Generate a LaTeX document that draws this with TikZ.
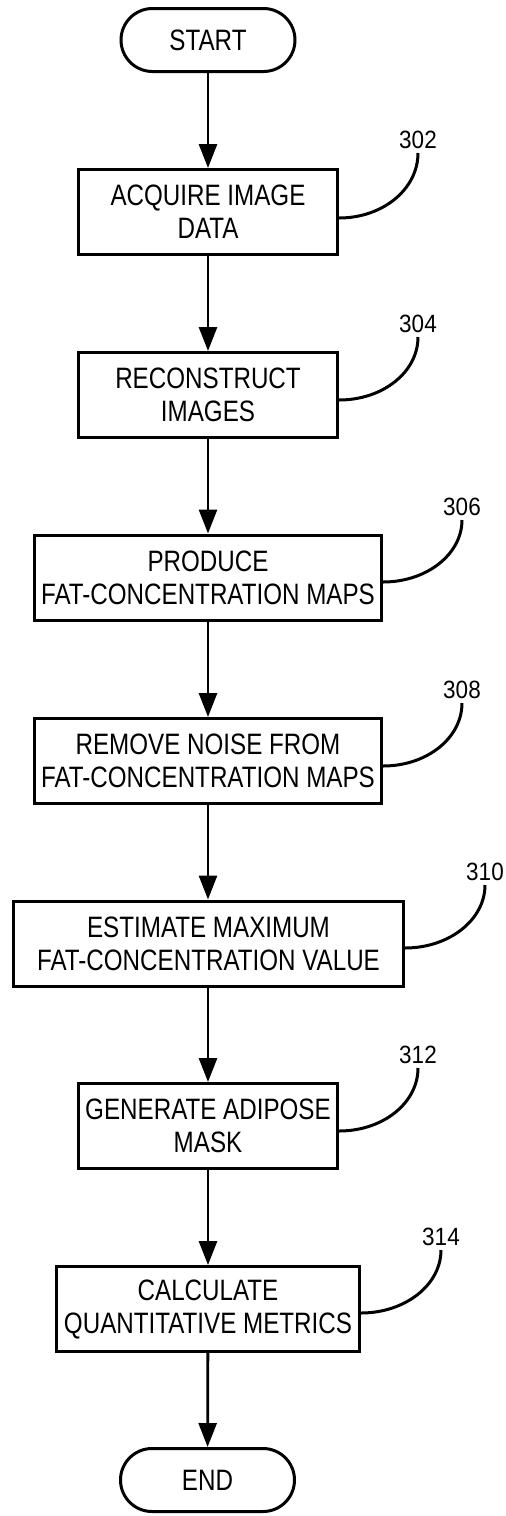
\documentclass[tikz,border=0pt]{standalone}
\usepackage{fontspec}
\setmainfont{Liberation Sans}[FakeStretch=0.82]
\newfontfamily\numfont{Liberation Sans}[FakeStretch=0.9]
\usetikzlibrary{arrows.meta}
\begin{document}
\begin{tikzpicture}[x=1pt,y=-1pt,
  every node/.style={font=\fontsize{29.5}{33}\selectfont},
  stepbox/.style={draw, line width=3pt, align=center, inner sep=0pt, minimum height=85pt},
  term/.style={draw, line width=3pt, rounded corners=31.5pt, minimum width=174pt, minimum height=63pt, inner sep=0pt},
  arr/.style={line width=2.8pt, -{Triangle[width=18pt,length=24pt]}},
  leader/.style={line width=3pt},
  lbl/.style={font=\numfont\fontsize{25}{28}\selectfont, inner sep=4pt, anchor=south}]
\useasboundingbox (0,0) rectangle (506,1516);

\node[term] (start) at (208,40) {START};
\node[stepbox, minimum width=259pt] (b302) at (208,212) {ACQUIRE IMAGE\\DATA};
\node[stepbox, minimum width=259pt] (b304) at (208,395) {RECONSTRUCT\\IMAGES};
\node[stepbox, minimum width=347pt] (b306) at (208,577.5) {PRODUCE\\FAT-CONCENTRATION MAPS};
\node[stepbox, minimum width=347pt] (b308) at (208,761) {REMOVE NOISE FROM\\FAT-CONCENTRATION MAPS};
\node[stepbox, minimum width=390pt] (b310) at (208.5,943.5) {ESTIMATE MAXIMUM\\FAT-CONCENTRATION VALUE};
\node[stepbox, minimum width=259pt] (b312) at (208,1126) {GENERATE ADIPOSE\\MASK};
\node[stepbox, minimum width=303pt] (b314) at (208,1309) {CALCULATE\\QUANTITATIVE METRICS};
\node[term] (end) at (207.5,1480) {END};

\draw[arr] (start) -- (b302);
\draw[arr] (b302) -- (b304);
\draw[arr] (b304) -- (b306);
\draw[arr] (b306) -- (b308);
\draw[arr] (b308) -- (b310.north -| b308.south);
\draw[arr] (b310.south -| b308.south) -- (b312);
\draw[arr] (b312) -- (b314);
\draw[arr] (b314) -- (end);

\node[lbl] (l302) at (418,153) {302};
\node[lbl] (l304) at (418,337) {304};
\node[lbl] (l306) at (462,520) {306};
\node[lbl] (l308) at (462,703) {308};
\node[lbl] (l310) at (485,885) {310};
\node[lbl] (l312) at (418,1068) {312};
\node[lbl] (l314) at (441,1250) {314};

\draw[leader] ([yshift=-6pt]b302.east) .. controls +(44,0) and +(0,36) .. (l302.south);
\draw[leader] ([yshift=-5pt]b304.east) .. controls +(44,0) and +(0,35) .. (l304.south);
\draw[leader] ([yshift=-4.5pt]b306.east) .. controls +(44,0) and +(0,34) .. (l306.south);
\draw[leader] ([yshift=-5pt]b308.east) .. controls +(44,0) and +(0,35) .. (l308.south);
\draw[leader] ([yshift=-4.5pt]b310.east) .. controls +(44,0) and +(0,35) .. (l310.south);
\draw[leader] ([yshift=-5pt]b312.east) .. controls +(44,0) and +(0,35) .. (l312.south);
\draw[leader] ([yshift=-4pt]b314.east) .. controls +(44,0) and +(0,35) .. (l314.south);
\end{tikzpicture}
\end{document}
